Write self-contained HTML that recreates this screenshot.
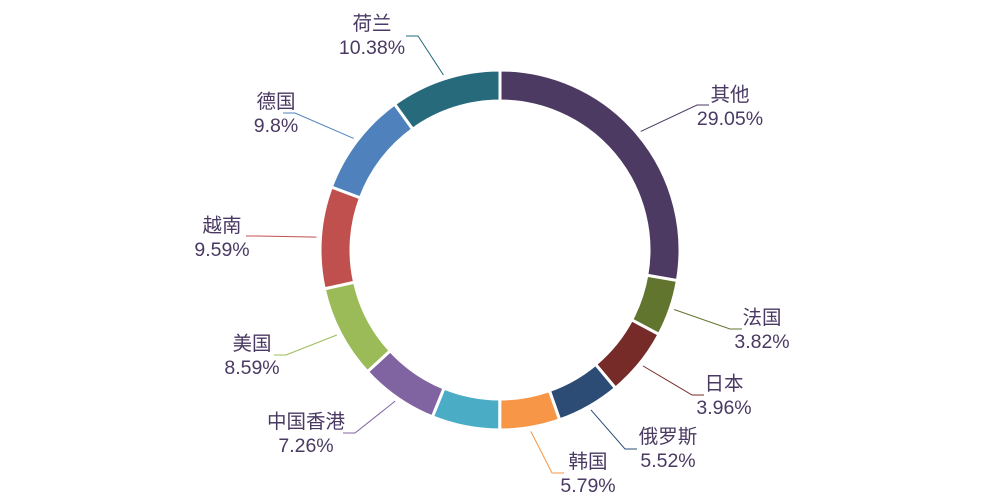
<!DOCTYPE html>
<html><head><meta charset="utf-8"><style>
html,body{margin:0;padding:0;background:#fff;width:1000px;height:500px;overflow:hidden}
text{font-family:"Liberation Sans","Noto Sans CJK SC",sans-serif;font-size:19.5px;fill:#4a3a63}
</style></head><body>
<svg id="chart" width="1000" height="500" viewBox="0 0 1000 500"></svg>
<script>
const categories=["其他","法国","日本","俄罗斯","韩国","","中国香港","美国","越南","德国","荷兰"];
const values=[27.7,5.05,6.15,5.7,5.4,6.1,7.05,8.35,9.15,9.35,9.95];
const valueLabels=["29.05%","3.82%","3.96%","5.52%","5.79%","","7.26%","8.59%","9.59%","9.8%","10.38%"];
const colors=["#4d3a62","#61752f","#772b29","#2c4c75","#f79646","#4bacc6","#8064a2","#9bbb59","#c0504d","#4f81bd","#266a7c"];
// label layout: [textX, textY(first line), anchor, elbowX, elbowY]
const layout=[[730,101,"middle",697,105],[762,324,"middle",730,329],[724,390,"middle",692,395],[668,443,"middle",625,449],[588,468,"middle",552,473],null,[306,428,"middle",355,433],[252,350,"middle",286,355],[222,232,"middle",258,236],[276,108,"middle",295,113],[372,30,"middle",418,36]];
const svg=document.getElementById('chart');
const NS='http://www.w3.org/2000/svg';
const cx=500,cy=250,R=180,r=149;
const total=values.reduce((a,b)=>a+b,0);
function pt(rad,a){return [cx+rad*Math.sin(a),cy-rad*Math.cos(a)];}
let acc=0;
values.forEach((v,i)=>{
  const a0=acc/total*2*Math.PI,a1=(acc+v)/total*2*Math.PI;acc+=v;
  const large=(a1-a0)>Math.PI?1:0;
  const p0=pt(R,a0),p1=pt(R,a1),q1=pt(r,a1),q0=pt(r,a0);
  const p=document.createElementNS(NS,'path');
  p.setAttribute('d',`M${p0} A${R},${R} 0 ${large} 1 ${p1} L${q1} A${r},${r} 0 ${large} 0 ${q0} Z`);
  p.setAttribute('fill',colors[i]);p.setAttribute('stroke','#fff');p.setAttribute('stroke-width','3');
  
  
  svg.appendChild(p);
  const L=layout[i];
  if(!L)return;
  const am=(a0+a1)/2,s=pt(R+4,am);
  const ln=document.createElementNS(NS,'polyline');
  const endX=L[3]<cx?L[3]-12:L[3]+12;
  ln.setAttribute('points',`${s} ${L[3]},${L[4]} ${endX},${L[4]}`);
  ln.setAttribute('fill','none');ln.setAttribute('stroke',colors[i]);ln.setAttribute('stroke-width','1');
  
  
  svg.appendChild(ln);
  const t=document.createElementNS(NS,'text');
  t.setAttribute('x',L[0]);t.setAttribute('y',L[1]);t.setAttribute('text-anchor',L[2]);
  
  
  const s1=document.createElementNS(NS,'tspan');s1.setAttribute('x',L[0]);s1.textContent=categories[i];
  const s2=document.createElementNS(NS,'tspan');s2.setAttribute('x',L[0]);s2.setAttribute('dy','24');s2.textContent=valueLabels[i];
  t.appendChild(s1);t.appendChild(s2);svg.appendChild(t);
});
</script>
</body></html>
